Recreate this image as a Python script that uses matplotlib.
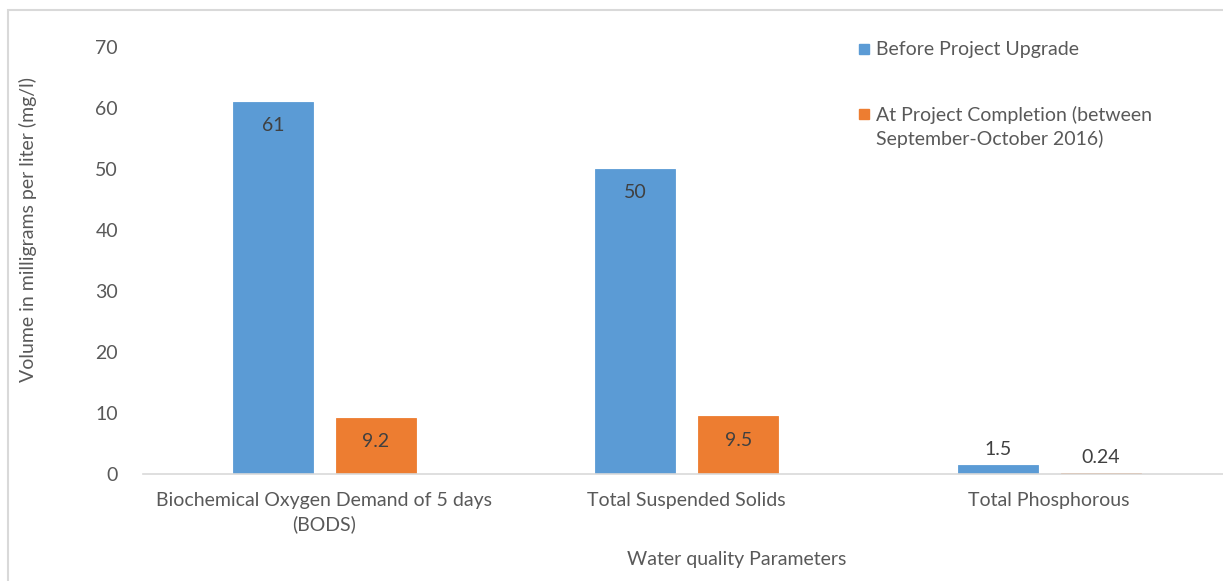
import numpy as np
import matplotlib
matplotlib.use("Agg")
import matplotlib.pyplot as plt
from matplotlib.patches import Rectangle

# chart data
categories = ["Biochemical Oxygen Demand of 5 days\n(BODS)",
              "Total Suspended Solids",
              "Total Phosphorous"]
before = [61, 50, 1.5]
after = [9.2, 9.5, 0.24]
before_labels = ["61", "50", "1.5"]
after_labels = ["9.2", "9.5", "0.24"]
series_names = ["Before Project Upgrade",
                "At Project Completion (between\nSeptember-October 2016)"]
yticks = [0, 10, 20, 30, 40, 50, 60, 70]

BLUE = "#5B9BD5"
ORANGE = "#ED7D31"
GREY = "#595959"
DARK = "#404040"
FS = 14

plt.rcParams['font.family'] = ['Lato', 'DejaVu Sans']

W, H = 1223, 581
fig = plt.figure(figsize=(W / 100, H / 100), dpi=100)

# chart frame (light grey border, cut at right/bottom)
fig.patches.append(Rectangle((8 / W, -0.1), 1.2, 1 - 10 / H + 0.1,
                             transform=fig.transFigure, fill=False,
                             edgecolor="#D9D9D9", linewidth=1.5))

ax_left, ax_right = 143, 1230.5
ax_top, ax_bot = 47, 474
ax = fig.add_axes([ax_left / W, 1 - ax_bot / H,
                   (ax_right - ax_left) / W, (ax_bot - ax_top) / H])

x = np.arange(len(categories))
width = 0.221
off = 0.142
b1 = ax.bar(x - off, before, width, color=BLUE, edgecolor=BLUE, linewidth=0.6)
b2 = ax.bar(x + off, after, width, color=ORANGE, edgecolor=ORANGE, linewidth=0.6)

for bars, labels in ((b1, before_labels), (b2, after_labels)):
    for rect, lab in zip(bars, labels):
        h = rect.get_height()
        dy = -24 if h > 5 else 15
        ax.annotate(lab, (rect.get_x() + rect.get_width() / 2, h),
                    xytext=(0, dy), textcoords="offset pixels",
                    ha="center", va="center", fontsize=FS, color=DARK)

ax.set_xlim(-0.5, 2.5)
ax.set_ylim(0, 70)
ax.set_yticks(yticks)
ax.set_xticks(x)
ax.set_xticklabels(categories, fontsize=FS, color=GREY, linespacing=1.4)
ax.tick_params(axis="y", length=0, pad=18, labelsize=FS, labelcolor=GREY)
ax.tick_params(axis="x", length=0, pad=13)
for s in ("top", "right", "left"):
    ax.spines[s].set_visible(False)
ax.spines["bottom"].set_color("#D9D9D9")
ax.spines["bottom"].set_linewidth(1.2)

fig.text(28 / W, 1 - 230 / H, "Volume in milligrams per liter (mg/l)",
         rotation=90, ha="center", va="center", fontsize=FS, color=GREY)
fig.text(737 / W, 1 - 560 / H, "Water quality Parameters",
         ha="center", va="center", fontsize=FS, color=GREY)

# legend
for name, col, ypix in ((series_names[0], BLUE, 49), (series_names[1], ORANGE, 114)):
    fig.patches.append(Rectangle((859 / W, 1 - (ypix + 5) / H), 10 / W, 10 / H,
                                 transform=fig.transFigure, color=col))
    fig.text(876 / W, 1 - (ypix - 8) / H, name, ha="left", va="top",
             fontsize=FS, color=GREY, linespacing=1.4)

fig.savefig("out.png", dpi=100)
